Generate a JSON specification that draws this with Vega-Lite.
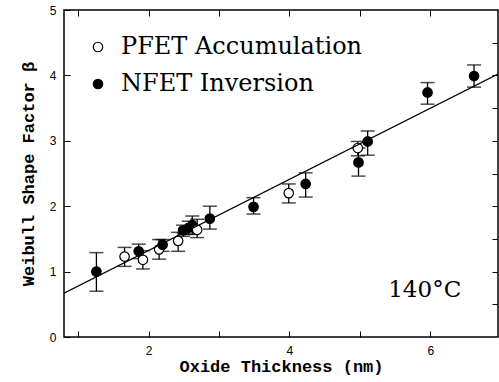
{
  "$schema": "https://vega.github.io/schema/vega-lite/v6.json",
  "autosize": "none",
  "width": 434,
  "height": 327,
  "padding": {"left": 64, "top": 10, "right": 1, "bottom": 45},
  "background": "white",
  "config": {"view": {"stroke": "black", "strokeWidth": 1.5}},
  "datasets": {
    "pts": [
      {"t": 1.26, "beta": 1.00, "lo": 0.70, "hi": 1.29, "series": "NFET Inversion"},
      {"t": 1.66, "beta": 1.23, "lo": 1.08, "hi": 1.37, "series": "PFET Accumulation"},
      {"t": 1.86, "beta": 1.31, "lo": 1.20, "hi": 1.42, "series": "NFET Inversion"},
      {"t": 1.92, "beta": 1.18, "lo": 1.04, "hi": 1.32, "series": "PFET Accumulation"},
      {"t": 2.15, "beta": 1.34, "lo": 1.19, "hi": 1.49, "series": "PFET Accumulation"},
      {"t": 2.20, "beta": 1.41, "lo": 1.31, "hi": 1.49, "series": "NFET Inversion"},
      {"t": 2.42, "beta": 1.47, "lo": 1.31, "hi": 1.60, "series": "PFET Accumulation"},
      {"t": 2.49, "beta": 1.63, "lo": 1.54, "hi": 1.71, "series": "NFET Inversion"},
      {"t": 2.57, "beta": 1.67, "lo": 1.57, "hi": 1.77, "series": "NFET Inversion"},
      {"t": 2.62, "beta": 1.71, "lo": 1.57, "hi": 1.85, "series": "NFET Inversion"},
      {"t": 2.69, "beta": 1.64, "lo": 1.52, "hi": 1.80, "series": "PFET Accumulation"},
      {"t": 2.87, "beta": 1.81, "lo": 1.65, "hi": 2.00, "series": "NFET Inversion"},
      {"t": 3.49, "beta": 1.99, "lo": 1.88, "hi": 2.13, "series": "NFET Inversion"},
      {"t": 3.99, "beta": 2.20, "lo": 2.05, "hi": 2.34, "series": "PFET Accumulation"},
      {"t": 4.23, "beta": 2.34, "lo": 2.14, "hi": 2.51, "series": "NFET Inversion"},
      {"t": 4.97, "beta": 2.89, "lo": 2.77, "hi": 2.99, "series": "PFET Accumulation"},
      {"t": 4.98, "beta": 2.67, "lo": 2.46, "hi": 2.89, "series": "NFET Inversion"},
      {"t": 5.11, "beta": 2.99, "lo": 2.78, "hi": 3.15, "series": "NFET Inversion"},
      {"t": 5.96, "beta": 3.74, "lo": 3.56, "hi": 3.89, "series": "NFET Inversion"},
      {"t": 6.62, "beta": 3.99, "lo": 3.82, "hi": 4.16, "series": "NFET Inversion"}
    ],
    "fit": [
      {"t": 0.8, "beta": 0.67},
      {"t": 6.96, "beta": 4.02}
    ],
    "note": [
      {"t": 5.92, "beta": 0.72, "label": "140°C"}
    ]
  },
  "resolve": {"axis": {"x": "independent", "y": "independent"}},
  "layer": [
    {
      "layer": [
        {
          "data": {"name": "pts"},
          "mark": {"type": "rule", "color": "black", "strokeWidth": 1.3},
          "encoding": {
            "x": {"field": "t", "type": "quantitative", "scale": {"domain": [0.8, 6.96], "nice": false, "zero": false},
              "axis": {"orient": "bottom", "values": [1,2,3,4,5,6], "format": "d", "labelExpr": "datum.value % 2 == 0 ? datum.label : ''",
                "tickSize": -6, "tickColor": "black", "domain": false, "grid": false, "labelPadding": 14,
                "labelFont": "Liberation Sans", "labelFontSize": 12, "labelColor": "black",
                "title": "Oxide Thickness (nm)", "titleFont": "Liberation Mono", "titleFontSize": 17, "titleFontWeight": "bold", "titleColor": "black", "titlePadding": 2}},
            "y": {"field": "lo", "type": "quantitative", "scale": {"domain": [0, 5], "nice": false},
              "axis": {"orient": "left", "values": [0,0.5,1,1.5,2,2.5,3,3.5,4,4.5,5], "format": "d", "labelExpr": "datum.value % 1 == 0 ? datum.label : ''",
                "tickSize": -6, "tickColor": "black", "domain": false, "grid": false, "labelPadding": 14,
                "labelFont": "Liberation Sans", "labelFontSize": 12, "labelColor": "black",
                "title": "Weibull Shape Factor β", "titleFont": "Liberation Mono", "titleFontSize": 17, "titleFontWeight": "bold", "titleColor": "black", "titlePadding": 12}},
            "y2": {"field": "hi"}
          }
        },
        {
          "data": {"name": "pts"},
          "mark": {"type": "tick", "orient": "horizontal", "color": "black", "size": 14, "thickness": 1.5},
          "encoding": {
            "x": {"field": "t", "type": "quantitative"},
            "y": {"field": "lo", "type": "quantitative"}
          }
        },
        {
          "data": {"name": "pts"},
          "mark": {"type": "tick", "orient": "horizontal", "color": "black", "size": 14, "thickness": 1.5},
          "encoding": {
            "x": {"field": "t", "type": "quantitative"},
            "y": {"field": "hi", "type": "quantitative"}
          }
        },
        {
          "data": {"name": "pts"},
          "mark": {"type": "point", "shape": "circle", "size": 90, "stroke": "black", "strokeWidth": 1.2, "opacity": 1},
          "encoding": {
            "x": {"field": "t", "type": "quantitative"},
            "y": {"field": "beta", "type": "quantitative"},
            "fill": {"field": "series", "type": "nominal",
              "scale": {"domain": ["PFET Accumulation", "NFET Inversion"], "range": ["white", "black"]},
              "legend": {"orient": "none", "legendX": 22, "legendY": 25, "title": null,
                "symbolType": "circle", "symbolSize": 90, "symbolStrokeColor": "black", "symbolStrokeWidth": 1.2,
                "labelFont": "DejaVu Serif", "labelFontSize": 24, "labelColor": "black", "labelLimit": 400,
                "labelOffset": 11, "rowPadding": 13}}
          }
        },
        {
          "data": {"name": "note"},
          "mark": {"type": "text", "font": "DejaVu Serif", "fontSize": 23, "color": "black"},
          "encoding": {
            "x": {"field": "t", "type": "quantitative"},
            "y": {"field": "beta", "type": "quantitative"},
            "text": {"field": "label"}
          }
        }
      ]
    },
    {
      "data": {"name": "fit"},
      "mark": {"type": "line", "color": "black", "strokeWidth": 1.3, "clip": true},
      "encoding": {
        "x": {"field": "t", "type": "quantitative",
          "axis": {"orient": "top", "values": [1,2,3,4,5,6], "labels": false, "tickSize": -6, "tickColor": "black", "domain": false, "grid": false, "title": null}},
        "y": {"field": "beta", "type": "quantitative",
          "axis": {"orient": "right", "values": [0.5,1,1.5,2,2.5,3,3.5,4,4.5], "labels": false, "tickSize": -6, "tickColor": "black", "domain": false, "grid": false, "title": null}}
      }
    }
  ]
}
